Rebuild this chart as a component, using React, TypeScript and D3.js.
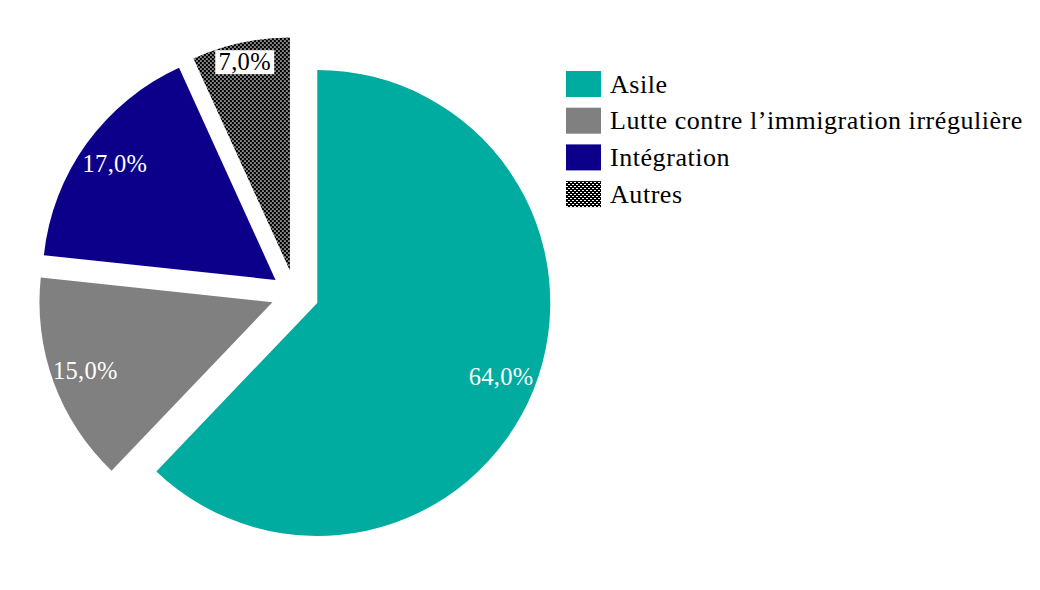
import React from "react";
import * as d3 from "d3";

const categories = ["Asile", "Lutte contre l\u2019immigration irrégulière", "Intégration", "Autres"];
const values = [64, 15, 17, 7];
const labels = ["64,0%", "15,0%", "17,0%", "7,0%"];

const colors = ["#00ab9f", "#808080", "#0c008a", "url(#dots)"];

export default function App() {
  const W = 1040, H = 590;
  const cx = 295, cy = 294, r = 233, explode = 24;
  const font = "'Liberation Serif', 'Times New Roman', serif";
  const pie = d3.pie<number>().sort(null).startAngle(0).endAngle(2 * Math.PI);
  const arcs = pie(values);
  const arc = d3.arc<d3.PieArcDatum<number>>().innerRadius(0).outerRadius(r);
  const labelFactor = [0.85, 0.855, 0.85, 0.915];

  return (
    <svg width={W} height={H} style={{ position: "absolute", left: 0, top: 0, background: "#fff" }}>
      <defs>
        <pattern id="dots" width={4} height={4} patternUnits="userSpaceOnUse">
          <rect width={4} height={4} fill="#000" shapeRendering="crispEdges" />
          <rect x={0} y={0} width={1.5} height={1} fill="#fff" shapeRendering="crispEdges" />
          <rect x={2} y={2} width={1.5} height={1} fill="#fff" shapeRendering="crispEdges" />
        </pattern>
      </defs>
      {arcs.map((a, i) => {
        const mid = (a.startAngle + a.endAngle) / 2;
        const ox = Math.sin(mid) * explode;
        const oy = -Math.cos(mid) * explode;
        const lr = r * labelFactor[i];
        const lx = cx + ox + Math.sin(mid) * lr;
        const ly = cy + oy - Math.cos(mid) * lr;
        const isBox = i === 3;
        return (
          <g key={i}>
            <path d={arc(a) || ""} transform={`translate(${cx + ox},${cy + oy})`} fill={colors[i]} />
            {isBox && (
              <rect x={lx - 29.5} y={ly - 12} width={59} height={24} fill="#fff" />
            )}
            <text
              x={lx}
              y={ly}
              dy="0.33em"
              textAnchor="middle"
              fontFamily={font}
              fontSize={24.5}
              letterSpacing={0.3}
              fill={isBox ? "#000" : "#fff"}
            >
              {labels[i]}
            </text>
          </g>
        );
      })}
      {categories.map((c, i) => {
        const y0 = 71 + i * 36.7;
        return (
          <g key={c}>
            <rect x={566} y={y0} width={35} height={26} fill={colors[i]} />
            <text x={610} y={y0 + 13} dy="0.33em" fontFamily={font} fontSize={26} letterSpacing={0.55} fill="#000">
              {c}
            </text>
          </g>
        );
      })}
    </svg>
  );
}
